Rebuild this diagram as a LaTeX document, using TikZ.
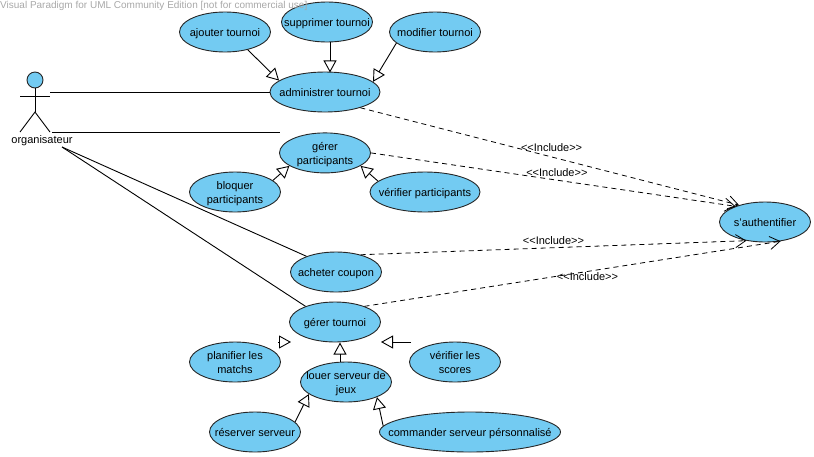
\documentclass[tikz,border=0pt]{standalone}
\usepackage{fontspec}
\setmainfont{Liberation Sans}
\usepackage{xcolor}
\usetikzlibrary{shapes.geometric, arrows.meta, positioning}
\definecolor{CaseBlue}{HTML}{73CBF2}
\definecolor{NoteGrey}{HTML}{A8A8A8}
\newcommand{\casetext}[1]{\makebox[0pt]{\raisebox{-4.5pt}[0pt][0pt]{\begin{tabular}{@{}c@{}}#1\end{tabular}}}}
\newcommand{\incltext}{<{}<Include>{}>}

\begin{document}
\begin{tikzpicture}[x=1pt, y=-1pt, font=\fontsize{11}{14.6}\selectfont]
    \tikzstyle{usecase} = [ellipse, draw=black!85, fill=CaseBlue, line width=0.9pt, minimum width=91pt, minimum height=40pt, inner sep=0pt]
    \tikzstyle{assoc} = [draw, line width=0.9pt]
    \tikzstyle{general} = [draw, line width=0.9pt, -{Triangle[open, length=12pt, width=13pt]}]
    \tikzstyle{incl} = [draw, line width=0.8pt, dash pattern=on 5pt off 4pt, -{Straight Barb[length=10pt, width=13pt]}]
    \tikzstyle{incllabel} = [inner sep=0pt, pos=0.5, font=\fontsize{11}{12}\selectfont]

    \useasboundingbox (0,0) rectangle (814,456);

    % use cases
    \node [usecase] (ajouter) at (225,32) {\casetext{ajouter tournoi}};
    \node [usecase] (supprimer) at (327,22) {\casetext{supprimer tournoi}};
    \node [usecase] (modifier) at (435,32) {\casetext{modifier tournoi}};
    \node [usecase, minimum width=110pt] (administrer) at (325,92) {\casetext{administrer tournoi}};
    \node [usecase, below=20pt of administrer] (participants) {\casetext{gérer\\participants}};
    \node [usecase] (bloquer) at (235,192) {\casetext{bloquer\\participants}};
    \node [usecase, minimum width=110pt] (verifpart) at (425,192) {\casetext{vérifier participants}};
    \node [usecase] (auth) at (765,222) {\casetext{s'authentifier}};
    \node [usecase] (coupon) at (336,272) {\casetext{acheter coupon}};
    \node [usecase] (gerer) at (335,322) {\casetext{gérer tournoi}};
    \node [usecase] (planifier) at (235,362) {\casetext{planifier les\\matchs}};
    \node [usecase] (scores) at (455,362) {\casetext{vérifier les\\scores}};
    \node [usecase] (louer) at (346,382) {\casetext{louer serveur de\\jeux}};
    \node [usecase] (reserver) at (255,432) {\casetext{réserver serveur}};
    \node [usecase, minimum width=181pt] (commander) at (470,432) {\casetext{commander serveur pérsonnalisé}};

    % actor
    \node [circle, draw=black!85, fill=CaseBlue, line width=0.9pt, minimum size=16pt, inner sep=0pt] (head) at (35,80) {};
    \node [inner sep=0pt] (organisateur) at (42,141) {organisateur};
    \coordinate (neck) at (35,112);
    \draw [assoc] (head) -- (neck);
    \draw [assoc] (20,96) -- (50,96);
    \draw [assoc] (20,132) -- (neck) -- (50,132);

    \coordinate (actorarm) at (50,92);
    \coordinate (actorfoot) at (52,132);
    \coordinate (actorend) at (280,132);
    \coordinate (actorlow) at (62,147);

    \path [assoc] (actorarm) -- (administrer.west);
    \path [assoc] (actorfoot) -- (actorend);
    \path [assoc] (actorlow) -- (coupon.152);
    \path [assoc] (actorlow) -- (gerer.152);

    % generalizations
    \path [general] (ajouter.-38) -- (administrer.166);
    \path [general] (supprimer.south) ++(3,0) -- ++(0,30);
    \path [general] (modifier.-164) -- (administrer.12);
    \path [general] (bloquer.17) -- (participants.-160);
    \path [general] (verifpart.167) -- (participants.-20);
    \path [general] (louer.north) ++(-6,0) -- ++(0,-19);
    \path [general] (reserver.14) -- (louer.-162);
    \path [general] (commander.176) -- (louer.-26);

    % these two only show their heads
    \coordinate (planiftip) at (291,342);
    \coordinate (planifbase) at (278,342);
    \path [general] (planifbase) -- (planiftip);
    \coordinate (scorestip) at (381,342);
    \coordinate (scoresbase) at (411,342);
    \path [general] (scoresbase) -- (scorestip);

    % includes
    \path [incl] (administrer.-24) -- node [incllabel, pos=0.505, yshift=9pt] (inclone) {\incltext} (auth.147);
    \path [incl] (participants.east) -- node [incllabel, pos=0.51, yshift=8pt] (incltwo) {\incltext} (auth.152);
    \path [incl] (coupon.35) -- node [incllabel, yshift=7pt] (inclthree) {\incltext} (auth.-135);
    \path [incl] (gerer.28) -- node [incllabel, pos=0.536, yshift=-5pt] (inclfour) {\incltext} (auth.-51);

    \node [anchor=north west, inner sep=0pt, text=NoteGrey, font=\fontsize{10}{12}\selectfont] (note) at (0,1) {Visual Paradigm for UML Community Edition [not for commercial use]};
\end{tikzpicture}
\end{document}
